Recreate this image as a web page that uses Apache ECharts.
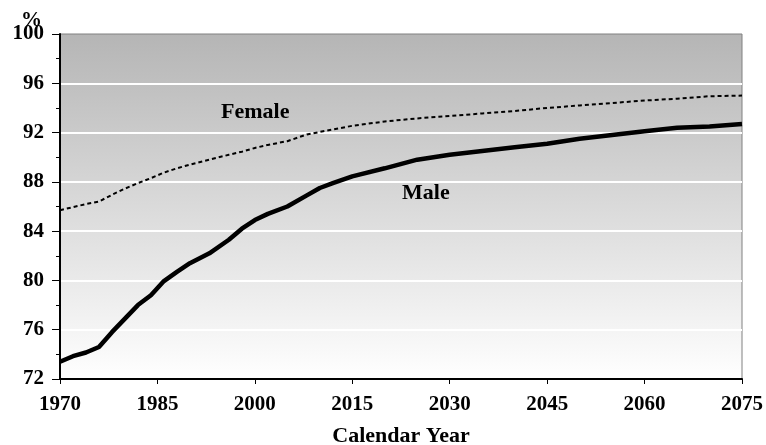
<!DOCTYPE html>
<html>
<head>
<meta charset="utf-8">
<script src="https://cdn.jsdelivr.net/npm/echarts@6/dist/echarts.min.js"></script>
<style>html,body{margin:0;padding:0;background:#fff}#c{width:766px;height:445px}</style>
</head>
<body>
<div id="c"></div>
<script>
var baseYear = 1970;
var maleYears   = [1970,1972,1974,1976,1978,1980,1982,1984,1986,1988,1990,1993,1996,1998,2000,2002,2005,2008,2010,2012,2015,2020,2025,2030,2035,2040,2045,2050,2055,2060,2065,2070,2075];
var maleValues  = [73.4,73.85,74.15,74.6,75.8,76.9,78.0,78.8,79.95,80.7,81.4,82.2,83.3,84.2,84.9,85.4,86.0,86.9,87.5,87.9,88.45,89.1,89.8,90.2,90.5,90.8,91.1,91.5,91.8,92.1,92.4,92.5,92.7];
var femaleYears  = [1970,1972,1974,1976,1978,1980,1982,1984,1986,1988,1990,1993,1996,1998,2000,2002,2005,2008,2010,2012,2015,2020,2025,2030,2035,2040,2045,2050,2055,2060,2065,2070,2075];
var femaleValues = [85.7,85.95,86.2,86.4,86.95,87.45,87.9,88.3,88.75,89.1,89.4,89.8,90.2,90.45,90.75,91.0,91.3,91.85,92.05,92.25,92.55,92.9,93.15,93.35,93.55,93.75,94.0,94.2,94.4,94.6,94.75,94.95,95.0];
var yTicks = {min:72, max:100, interval:4};
var xTicks = {min:1970, max:2075, interval:15};

function pairs(ys, vs){ return ys.map(function(y,i){ return [y - baseYear, vs[i]]; }); }

var font = '"Liberation Serif","Times New Roman",serif';
var chart = echarts.init(document.getElementById('c'), null, {renderer:'canvas'});
chart.setOption({
  animation:false,
  backgroundColor:'#ffffff',
  grid:{left:60, right:24, top:34, bottom:66, containLabel:false, outerBoundsMode:'none',
    show:true, borderColor:'#808080', borderWidth:1,
    backgroundColor:{type:'linear', x:0, y:0, x2:0, y2:1, colorStops:[{offset:0,color:'#b5b5b5'},{offset:1,color:'#ffffff'}]}},
  title:{text:'%', left:16, top:5, textStyle:{fontFamily:font, fontWeight:'bold', fontSize:21, color:'#000'}},
  xAxis:{type:'value', min:xTicks.min-baseYear, max:xTicks.max-baseYear, interval:xTicks.interval,
    name:'Calendar Year', nameLocation:'middle', nameGap:46,
    nameTextStyle:{fontFamily:font, fontWeight:'bold', fontSize:22, color:'#000'},
    axisLine:{show:true, lineStyle:{color:'#000', width:2}},
    axisTick:{show:true, length:5, lineStyle:{color:'#000'}},
    axisLabel:{fontFamily:font, fontWeight:'bold', fontSize:21, color:'#000', margin:15,
      formatter:function(v){return String(v+baseYear);}},
    splitLine:{show:false}},
  yAxis:{type:'value', min:yTicks.min, max:yTicks.max, interval:yTicks.interval,
    axisLine:{show:true, lineStyle:{color:'#000', width:2}},
    axisTick:{show:true, length:8, lineStyle:{color:'#000'}},
    minorTick:{show:true, splitNumber:2, length:4, lineStyle:{color:'#000'}},
    axisLabel:{fontFamily:font, fontWeight:'bold', fontSize:21, color:'#000', margin:16},
    splitLine:{show:true, showMinLine:false, showMaxLine:false, lineStyle:{color:'#ffffff', width:2}}},
  graphic:[
    {type:'text', left:221, top:101, style:{text:'Female', font:'bold 22px '+font, fill:'#000'}},
    {type:'text', left:402, top:182, style:{text:'Male', font:'bold 22px '+font, fill:'#000'}}
  ],
  series:[
    {name:'Female', type:'line', data:pairs(femaleYears, femaleValues), showSymbol:false,
      lineStyle:{color:'#000', width:2, type:[4,3]}},
    {name:'Male', type:'line', data:pairs(maleYears, maleValues), showSymbol:false,
      lineStyle:{color:'#000', width:4.5}}
  ]
});
</script>
</body>
</html>
